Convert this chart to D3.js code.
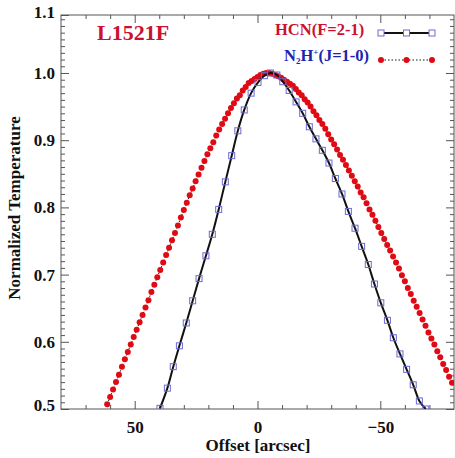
<!DOCTYPE html>
<html>
<head>
<meta charset="utf-8">
<script src="https://cdn.jsdelivr.net/npm/d3@7"></script>
<style>
	body { margin: 0; background: #fff; }
	text { font-family: "Liberation Serif", "Times New Roman", serif; font-weight: bold; }
</style>
</head>
<body>
<div id="chart"></div>
<script>

// HCN(F=2-1) profile: offset [arcsec] and normalized temperature
const hcnOffset = [39.7, 36.7, 34.3, 31.8, 29.0, 26.4, 23.8, 21.0, 18.4, 15.8, 13.1, 10.5, 8.0, 5.4, 2.6, -0.2,
	-2.8, -5.3, -7.9, -10.3, -12.9, -15.7, -18.4, -21.1, -23.8, -26.4, -29.1, -31.7, -34.4, -37.0, -39.7,
	-42.4, -45.1, -47.6, -50.2, -52.9, -55.3, -58.0, -60.7, -63.4, -65.9, -68.5];
const hcnTemp = [0.501, 0.531, 0.563, 0.594, 0.628, 0.661, 0.694, 0.728, 0.760, 0.797, 0.838, 0.877, 0.914, 0.945, 0.970, 0.986,
	0.996, 1.000, 0.997, 0.987, 0.974, 0.957, 0.940, 0.920, 0.902, 0.885, 0.866, 0.843, 0.820, 0.794, 0.769,
	0.742, 0.715, 0.686, 0.658, 0.632, 0.606, 0.582, 0.559, 0.536, 0.512, 0.488];

// N2H+(J=1-0) profile
const n2hOffset = [61.2, 60.0, 58.8, 57.6, 56.4, 55.2, 54.0, 52.8, 51.6, 50.4, 49.2, 48.0, 46.8, 45.6, 44.4, 43.2,
	42.0, 40.8, 39.6, 38.4, 37.2, 36.0, 34.8, 33.6, 32.4, 31.2, 30.0, 28.8, 27.6, 26.4, 25.2, 24.0, 22.8, 21.6,
	20.4, 19.2, 18.0, 16.8, 15.6, 14.4, 13.2, 12.0, 10.8, 9.6, 8.4, 7.2, 6.0, 4.8, 3.6, 2.4, 1.2, 0.0, -1.2,
	-2.4, -3.6, -4.8, -6.0, -7.2, -8.4, -9.6, -10.8, -12.0, -13.2, -14.4, -15.6, -16.8, -18.0, -19.2, -20.4,
	-21.6, -22.8, -24.0, -25.2, -26.4, -27.6, -28.8, -30.0, -31.2, -32.4, -33.6, -34.8, -36.0, -37.2, -38.4,
	-39.6, -40.8, -42.0, -43.2, -44.4, -45.6, -46.8, -48.0, -49.2, -50.4, -51.6, -52.8, -54.0, -55.2, -56.4,
	-57.6, -58.8, -60.0, -61.2, -62.4, -63.6, -64.8, -66.0, -67.2, -68.4, -69.6, -70.8, -72.0, -73.2, -74.4,
	-75.6, -76.8, -78.0, -79.2];
const n2hTemp = [0.507, 0.518, 0.529, 0.540, 0.551, 0.563, 0.574, 0.585, 0.596, 0.607, 0.618, 0.629, 0.640, 0.651,
	0.662, 0.674, 0.685, 0.696, 0.707, 0.718, 0.729, 0.740, 0.751, 0.762, 0.773, 0.785, 0.796,
	0.807, 0.818, 0.828, 0.839, 0.849, 0.859, 0.869, 0.879, 0.888, 0.897, 0.907, 0.916, 0.924, 0.932, 0.940,
	0.948, 0.955, 0.962, 0.967, 0.974, 0.979, 0.985, 0.988, 0.991, 0.994, 0.997, 0.999, 1.000, 1.000,
	0.999, 0.997, 0.995, 0.993, 0.990, 0.987, 0.984, 0.981, 0.976, 0.971, 0.967, 0.961, 0.956, 0.950, 0.943,
	0.937, 0.930, 0.924, 0.917, 0.909, 0.901, 0.894, 0.886, 0.878, 0.871, 0.863, 0.855, 0.847, 0.839, 0.831,
	0.822, 0.815, 0.806, 0.797, 0.789, 0.780, 0.771, 0.762, 0.753, 0.744, 0.736, 0.727, 0.718, 0.709,
	0.699, 0.690, 0.680, 0.671, 0.661, 0.652, 0.643, 0.633, 0.624, 0.614, 0.605, 0.596, 0.586, 0.577,
	0.567, 0.558, 0.548, 0.539];

// Axis ticks
const xMajorTicks = [50, 0, -50];
const xMinorTicks = [70, 60, 40, 30, 20, 10, -10, -20, -30, -40, -60, -70];
const yMajorTicks = [0.5, 0.6, 0.7, 0.8, 0.9, 1.0, 1.1];
const xDomain = [80, -80];
const yDomain = [0.5, 1.0863];

const seriesNames = ["HCN(F=2-1)", "N2H+(J=1-0)"];

const hcnData = hcnOffset.map((d, i) => ({ x: d, y: hcnTemp[i] }));
const n2hData = n2hOffset.map((d, i) => ({ x: d, y: n2hTemp[i] }));

const red = "#df0a14";
const titleRed = "#cc1030";
const blue = "#1c24b0";
const squareColor = "#6a6ad2";
const axisColor = "#555";

const margin = { top: 15, right: 1, bottom: 49, left: 61 };
const width = 455 - margin.left - margin.right,
	height = 458 - margin.top - margin.bottom;

const svg = d3.select("#chart").append("svg")
	.attr("width", 455)
	.attr("height", 458)
	.append("g")
	.attr("transform", "translate(" + margin.left + "," + margin.top + ")");

// Scales (x runs from +80 on the left to -80 on the right)
const xScale = d3.scaleLinear().domain(xDomain).range([0, width]);
const yScale = d3.scaleLinear().domain(yDomain).range([height, 0]).clamp(true);

// minor y ticks every 0.01
const yMinorTicks = d3.range(51, 109).map(d => d / 100).filter(d => Math.round(d * 100) % 10 !== 0);

// ---- axes: ticks point inward on all four sides
function styleAxis(g) {
	g.select(".domain").remove();
	g.selectAll("line").attr("stroke", axisColor);
	g.selectAll("text")
		.attr("fill", "#111")
		.style("font-size", "17px")
		.style("font-family", "'Liberation Serif', serif")
		.style("font-weight", "bold");
}

svg.append("g")
	.attr("transform", "translate(0," + height + ")")
	.call(d3.axisBottom(xScale).tickValues(xMajorTicks).tickSizeInner(-8).tickSizeOuter(0).tickPadding(12)
		.tickFormat(d => d3.format("d")(d)))
	.call(styleAxis);
svg.append("g")
	.attr("transform", "translate(0," + height + ")")
	.call(d3.axisBottom(xScale).tickValues(xMinorTicks).tickSizeInner(-4).tickSizeOuter(0).tickFormat(""))
	.call(styleAxis);
svg.append("g")
	.call(d3.axisTop(xScale).tickValues(xMajorTicks).tickSizeInner(-8).tickSizeOuter(0).tickFormat(""))
	.call(styleAxis);
svg.append("g")
	.call(d3.axisTop(xScale).tickValues(xMinorTicks).tickSizeInner(-4).tickSizeOuter(0).tickFormat(""))
	.call(styleAxis);

const yAxisGroup = svg.append("g")
	.call(d3.axisLeft(yScale).tickValues(yMajorTicks).tickSizeInner(-8).tickSizeOuter(0).tickPadding(6)
		.tickFormat(d3.format(".1f")))
	.call(styleAxis);
// nudge the end labels like the original
yAxisGroup.selectAll(".tick text")
	.attr("y", d => d === 0.5 ? -4 : (d === 1.1 ? -3 : 0));

svg.append("g")
	.call(d3.axisLeft(yScale).tickValues(yMinorTicks).tickSizeInner(-4).tickSizeOuter(0).tickFormat(""))
	.call(styleAxis);
svg.append("g")
	.attr("transform", "translate(" + width + ",0)")
	.call(d3.axisRight(yScale).tickValues(yMajorTicks.filter(d => d < 1.09)).tickSizeInner(-8).tickSizeOuter(0).tickFormat(""))
	.call(styleAxis);
svg.append("g")
	.attr("transform", "translate(" + width + ",0)")
	.call(d3.axisRight(yScale).tickValues(yMinorTicks).tickSizeInner(-4).tickSizeOuter(0).tickFormat(""))
	.call(styleAxis);

// frame
svg.append("rect")
	.attr("width", width)
	.attr("height", height)
	.attr("fill", "none")
	.attr("stroke", axisColor)
	.attr("stroke-width", 1);

// clip for the curves
svg.append("clipPath")
	.attr("id", "plot-clip")
	.append("rect")
	.attr("width", width)
	.attr("height", height);

const plot = svg.append("g").attr("clip-path", "url(#plot-clip)");

const line = d3.line()
	.x(d => xScale(d.x))
	.y(d => yScale(d.y));

// N2H+ : dotted line + red dots
plot.append("path")
	.datum(n2hData)
	.attr("d", line)
	.attr("fill", "none")
	.attr("stroke", "#111")
	.attr("stroke-width", 1)
	.attr("stroke-dasharray", "1.5,2");

plot.selectAll(".n2h-dot")
	.data(n2hData)
	.enter()
	.append("circle")
	.attr("class", "n2h-dot")
	.attr("cx", d => xScale(d.x))
	.attr("cy", d => yScale(d.y))
	.attr("r", 3)
	.attr("fill", red);

// HCN : solid black line + open squares
plot.append("path")
	.datum(hcnData)
	.attr("d", line.curve(d3.curveCatmullRom))
	.attr("fill", "none")
	.attr("stroke", "#111")
	.attr("stroke-width", 2);

plot.selectAll(".hcn-sq")
	.data(hcnData)
	.enter()
	.append("rect")
	.attr("class", "hcn-sq")
	.attr("x", d => xScale(d.x) - 3)
	.attr("y", d => yScale(d.y) - 3)
	.attr("width", 6)
	.attr("height", 6)
	.attr("fill", "none")
	.attr("stroke", squareColor)
	.attr("stroke-width", 1);

// source label
svg.append("text")
	.attr("x", 36)
	.attr("y", 25)
	.attr("fill", titleRed)
	.style("font-size", "22px")
	.text("L1521F");

// legend
const legendX = [320, 345.5, 371];

svg.append("text")
	.attr("x", 214)
	.attr("y", 20)
	.attr("fill", titleRed)
	.style("font-size", "16.5px")
	.text(seriesNames[0]);

svg.append("line")
	.attr("x1", legendX[0]).attr("x2", legendX[2])
	.attr("y1", 18).attr("y2", 18)
	.attr("stroke", "#111")
	.attr("stroke-width", 2);
svg.selectAll(".leg-sq")
	.data(legendX)
	.enter()
	.append("rect")
	.attr("class", "leg-sq")
	.attr("x", d => d - 3)
	.attr("y", 15)
	.attr("width", 6)
	.attr("height", 6)
	.attr("fill", "#fff")
	.attr("stroke", squareColor);

const n2hLabel = svg.append("text")
	.attr("x", 223)
	.attr("y", 46)
	.attr("fill", blue)
	.style("font-size", "16.5px");
n2hLabel.append("tspan").text("N");
n2hLabel.append("tspan").attr("dy", 3).style("font-size", "9px").text("2");
n2hLabel.append("tspan").attr("dy", -3).text("H");
n2hLabel.append("tspan").attr("dy", -6).style("font-size", "9px").text("+");
n2hLabel.append("tspan").attr("dy", 6).text("(J=1-0)");

svg.append("line")
	.attr("x1", legendX[0]).attr("x2", legendX[2])
	.attr("y1", 45).attr("y2", 45)
	.attr("stroke", "#111")
	.attr("stroke-width", 1)
	.attr("stroke-dasharray", "1.5,2");
svg.selectAll(".leg-dot")
	.data(legendX)
	.enter()
	.append("circle")
	.attr("class", "leg-dot")
	.attr("cx", d => d)
	.attr("cy", 45)
	.attr("r", 3)
	.attr("fill", red);

// axis titles
svg.append("text")
	.attr("x", 258 - margin.left)
	.attr("y", height + 42)
	.attr("text-anchor", "middle")
	.attr("fill", "#111")
	.style("font-size", "17px")
	.text("Offset [arcsec]");

svg.append("text")
	.attr("transform", "rotate(-90)")
	.attr("x", -(height / 2) + 4)
	.attr("y", -41)
	.attr("text-anchor", "middle")
	.attr("fill", "#111")
	.style("font-size", "17px")
	.text("Normalized Temperature");

</script>
</body>
</html>
